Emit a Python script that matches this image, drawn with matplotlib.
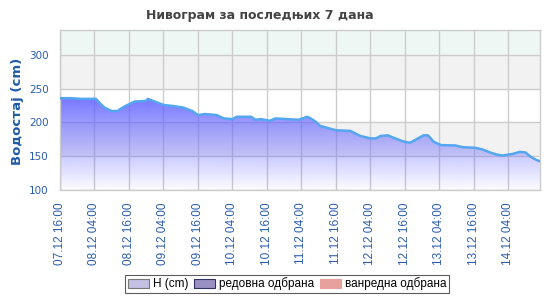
import numpy as np
import matplotlib
matplotlib.use("Agg")
import matplotlib.pyplot as plt
from matplotlib.patches import Patch
from matplotlib.path import Path
from matplotlib.patches import PathPatch

# ---- data ----
# hours after 07.12 16:00 and water level in cm
hours = [0, 4, 7, 12.5, 14, 15.5, 17, 18, 20, 21, 23, 26, 30, 30.5, 33, 36, 40, 43,
         46, 48, 50.5, 54.5, 57, 60, 61.5, 66.5, 68, 70, 73, 75, 79, 83, 86, 87,
         89, 90.5, 93, 96, 101, 104.5, 108, 110, 111.5, 114, 116, 119, 121.5,
         122.5, 125, 126.5, 128, 130, 132.5, 137.5, 140, 144.5, 147, 150, 152,
         154, 157.5, 160, 162, 163.5, 165.5, 167]
level = [236, 236, 235, 235, 228, 222, 219, 217, 217, 220, 225, 231, 232, 235,
         231, 226, 224, 222, 217, 211, 212.5, 211, 206, 205, 208.5, 208.5, 204,
         205, 202.5, 206, 205, 204, 208.5, 206.5, 201, 195, 192, 188.5, 187.5,
         180, 176.5, 176.5, 180, 181, 177.5, 172.5, 170, 171.5, 177.5, 181, 181,
         171.5, 166.5, 166, 163.5, 162.5, 160, 155, 152.5, 151, 153.5, 156.5,
         155.5, 150, 145, 142.5]
tick_labels = ["07.12 16:00", "08.12 04:00", "08.12 16:00", "09.12 04:00",
               "09.12 16:00", "10.12 04:00", "10.12 16:00", "11.12 04:00",
               "11.12 16:00", "12.12 04:00", "12.12 16:00", "13.12 04:00",
               "13.12 16:00", "14.12 04:00"]
y_ticks = [100, 150, 200, 250, 300]
legend_labels = ["H (cm)", "редовна одбрана", "ванредна одбрана"]

BLUE = "#2a5caa"
YMIN, YMAX = 100, 337
XMAX = 167

fig = plt.figure(figsize=(5.5, 3.0), dpi=100)
ax = fig.add_axes([60 / 550, 110 / 300, 480 / 550, 160 / 300])

# background bands
ax.axhspan(300, YMAX, color="#eef7f4", zorder=0, lw=0)
ax.axhspan(250, 300, color="#f2f2f2", zorder=0, lw=0)
ax.axhspan(150, 200, color="#f2f2f2", zorder=0, lw=0)

tick_pos = [12 * i for i in range(len(tick_labels))]
ax.set_xticks(tick_pos)
ax.set_xticklabels(tick_labels, rotation=90, color=BLUE,
                   fontsize=8.5, family="Liberation Sans")
ax.set_yticks(y_ticks)
ax.set_yticklabels([str(v) for v in y_ticks], color=BLUE, fontsize=7.5)
ax.tick_params(axis="x", length=0, pad=9)
ax.tick_params(axis="y", length=0, pad=8)
ax.grid(True, color="#cccccc", lw=1, zorder=1)
ax.set_axisbelow(True)
for s in ax.spines.values():
    s.set_color("#cccccc")
    s.set_linewidth(1)

# gradient fill under the curve
grad = np.zeros((256, 1, 4))
grad[:, 0, 0] = 96 / 255
grad[:, 0, 1] = 96 / 255
grad[:, 0, 2] = 1.0
grad[:, 0, 3] = np.linspace(0.02, 0.85, 256)
top = max(level)
im = ax.imshow(grad, extent=[0, XMAX, YMIN, top], origin="lower",
               aspect="auto", zorder=2, interpolation="bilinear")
verts = [(hours[0], YMIN)] + list(zip(hours, level)) + [(hours[-1], YMIN)]
poly = PathPatch(Path(verts), facecolor="none", edgecolor="none")
ax.add_patch(poly)
im.set_clip_path(poly)

ax.plot(hours, level, color="#55a6f0", lw=1.8, zorder=3)
ax.set_xlim(0, XMAX)
ax.set_ylim(YMIN, YMAX)

fig.text(260 / 550, 1 - 15 / 300, "Нивограм за последњих 7 дана", ha="center",
         va="center", fontsize=9, fontweight="bold", color="#444444")
fig.text(18 / 550, 1 - 111 / 300, "Водостај (cm)", ha="center", va="center",
         rotation=90, fontsize=9.5, fontweight="bold", color="#1f5aa6")

handles = [Patch(facecolor="#c4c0e4", edgecolor="#777777", lw=0.8),
           Patch(facecolor="#9a90c0", edgecolor="#333366", lw=0.8),
           Patch(facecolor="#e8a09c", edgecolor="#e8a09c", lw=0.8)]
leg = fig.legend(handles, legend_labels, loc="center",
                 bbox_to_anchor=(287 / 550, 1 - 284 / 300), ncol=3,
                 frameon=True, fancybox=False,
                 prop={"family": "Liberation Sans", "size": 8.5},
                 handlelength=1.8, handleheight=0.8, handletextpad=0.3,
                 columnspacing=0.5, borderpad=0.2, borderaxespad=0)
leg.get_frame().set_edgecolor("#333333")
leg.get_frame().set_linewidth(0.8)

fig.savefig("out.png", dpi=100)
